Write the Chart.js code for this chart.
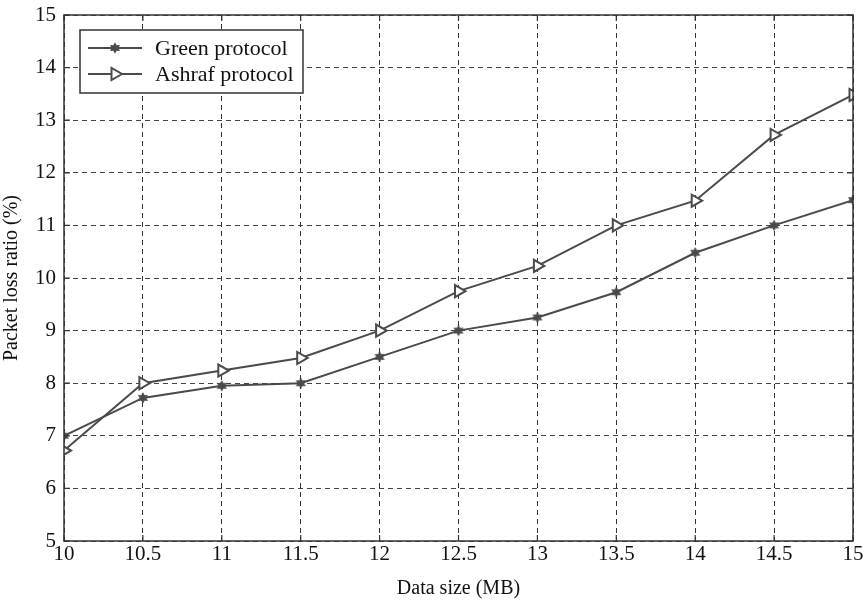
<!DOCTYPE html>
<html>
<head>
<meta charset="utf-8">
<script src="https://cdn.jsdelivr.net/npm/chart.js@4/dist/chart.umd.min.js"></script>
<style>
  html, body { margin: 0; padding: 0; background: #ffffff; }
  #wrap { width: 867px; height: 601px; position: relative; }
</style>
</head>
<body>
<div id="wrap"><canvas id="c" width="867" height="601"></canvas></div>
<script>
// Data size (MB) on the x axis
const dataSize = [10, 10.5, 11, 11.5, 12, 12.5, 13, 13.5, 14, 14.5, 15];
// Packet loss ratio (%) per protocol
const greenLoss  = [7.0, 7.72, 7.95, 8.0, 8.5, 9.0, 9.25, 9.73, 10.48, 11.0, 11.48];
const ashrafLoss = [6.72, 8.0, 8.24, 8.48, 9.0, 9.75, 10.23, 11.0, 11.47, 12.72, 13.48];
const seriesNames = ['Green protocol', 'Ashraf protocol'];
const xTitle = 'Data size (MB)';
const yTitle = 'Packet loss ratio (%)';

const INK = '#4a4a4a';
const FONT = '"Liberation Serif", "DejaVu Serif", serif';

const toPoints = (ys) => dataSize.map((x, i) => ({ x: x, y: ys[i] }));

// Small filled six-pointed star used as the Green protocol marker
const starPoint = (() => {
  const c = document.createElement('canvas');
  c.width = 14; c.height = 14;
  const g = c.getContext('2d');
  g.fillStyle = INK;
  g.translate(7, 7);
  g.beginPath();
  for (let k = 0; k < 12; k++) {
    const r = k % 2 === 0 ? 5.8 : 3.3;
    const ang = -Math.PI / 2 + k * Math.PI / 6;
    const px = r * Math.cos(ang), py = r * Math.sin(ang);
    if (k === 0) g.moveTo(px, py); else g.lineTo(px, py);
  }
  g.closePath();
  g.fill();
  return c;
})();

// Frame, inward tick marks and boxed legend drawn on top of the plot
const framePlugin = {
  id: 'frame',
  afterDatasetsDraw(chart) {
    const { ctx, chartArea: a, scales } = chart;
    ctx.save();
    ctx.strokeStyle = '#333';
    ctx.lineWidth = 1.5;
    ctx.setLineDash([]);
    ctx.strokeRect(a.left, a.top, a.right - a.left, a.bottom - a.top);
    const t = 6;
    ctx.lineWidth = 1.2;
    ctx.beginPath();
    scales.y.ticks.forEach(tk => {
      const y = scales.y.getPixelForValue(tk.value);
      ctx.moveTo(a.left, y); ctx.lineTo(a.left + t, y);
      ctx.moveTo(a.right, y); ctx.lineTo(a.right - t, y);
    });
    scales.x.ticks.forEach(tk => {
      const x = scales.x.getPixelForValue(tk.value);
      ctx.moveTo(x, a.bottom); ctx.lineTo(x, a.bottom - t);
      ctx.moveTo(x, a.top); ctx.lineTo(x, a.top + t);
    });
    ctx.stroke();

    // legend box
    const bx = a.left + 16, by = a.top + 15, bw = 223, bh = 63;
    ctx.fillStyle = '#ffffff';
    ctx.fillRect(bx, by, bw, bh);
    ctx.strokeStyle = '#333';
    ctx.lineWidth = 1.5;
    ctx.strokeRect(bx, by, bw, bh);
    chart.data.datasets.forEach((ds, i) => {
      const cy = by + 18 + i * 26;
      ctx.strokeStyle = ds.borderColor;
      ctx.lineWidth = 2;
      ctx.beginPath();
      ctx.moveTo(bx + 8, cy); ctx.lineTo(bx + 62, cy);
      ctx.stroke();
      ctx.fillStyle = ds.pointBackgroundColor;
      ctx.strokeStyle = ds.pointBorderColor || ds.borderColor;
      ctx.lineWidth = ds.pointBorderWidth || 0;
      Chart.helpers.drawPoint(ctx, {
        pointStyle: ds.pointStyle,
        rotation: ds.pointRotation || 0,
        radius: ds.pointRadius,
        borderWidth: ds.pointBorderWidth
      }, bx + 35, cy);
      ctx.fillStyle = '#111';
      ctx.font = '22px ' + FONT;
      ctx.textBaseline = 'middle';
      ctx.textAlign = 'left';
      ctx.fillText(ds.label, bx + 75, cy + 1);
    });
    ctx.restore();
  }
};

new Chart(document.getElementById('c'), {
  type: 'line',
  data: {
    datasets: [
      {
        label: seriesNames[0],
        data: toPoints(greenLoss),
        borderColor: INK,
        backgroundColor: INK,
        borderWidth: 2,
        pointStyle: starPoint,
        pointRadius: 5,
        pointBorderWidth: 0,
        pointBackgroundColor: INK,
        tension: 0
      },
      {
        label: seriesNames[1],
        data: toPoints(ashrafLoss),
        borderColor: INK,
        backgroundColor: '#ffffff',
        borderWidth: 2,
        pointStyle: 'triangle',
        pointRotation: 90,
        pointRadius: 7,
        pointBorderWidth: 2,
        pointBackgroundColor: '#ffffff',
        pointBorderColor: INK,
        tension: 0
      }
    ]
  },
  options: {
    responsive: false,
    animation: false,
    devicePixelRatio: 1,
    layout: { padding: { top: 15, right: 14, left: 0, bottom: 0 } },
    plugins: {
      legend: { display: false },
      tooltip: { enabled: false }
    },
    scales: {
      x: {
        type: 'linear',
        min: 10, max: 15,
        ticks: {
          stepSize: 0.5,
          color: '#111',
          font: { family: FONT, size: 21 },
          padding: 1,
          maxRotation: 0,
          autoSkip: false,
          callback: (v) => String(v)
        },
        grid: {
          color: '#333',
          lineWidth: 1,
          drawTicks: false
        },
        border: { display: false, dash: [5, 4] },
        title: {
          display: true,
          text: xTitle,
          color: '#111',
          font: { family: FONT, size: 20 },
          padding: { top: 4, bottom: 0 }
        },
        afterFit(scale) {
          scale.height = 60;
          scale.paddingLeft = 0;
          scale.paddingRight = 0;
        }
      },
      y: {
        min: 5, max: 15,
        ticks: {
          stepSize: 1,
          color: '#111',
          font: { family: FONT, size: 21 },
          padding: 8,
          callback: (v) => String(v)
        },
        grid: {
          color: '#444',
          lineWidth: 1,
          drawTicks: false
        },
        border: { display: false, dash: [5, 4] },
        title: {
          display: true,
          text: yTitle,
          color: '#111',
          font: { family: FONT, size: 20 },
          padding: { top: 0, bottom: 2 }
        },
        afterFit(scale) {
          scale.width = 64;
          scale.paddingTop = 0;
          scale.paddingBottom = 0;
        }
      }
    }
  },
  plugins: [framePlugin]
});
</script>
</body>
</html>
